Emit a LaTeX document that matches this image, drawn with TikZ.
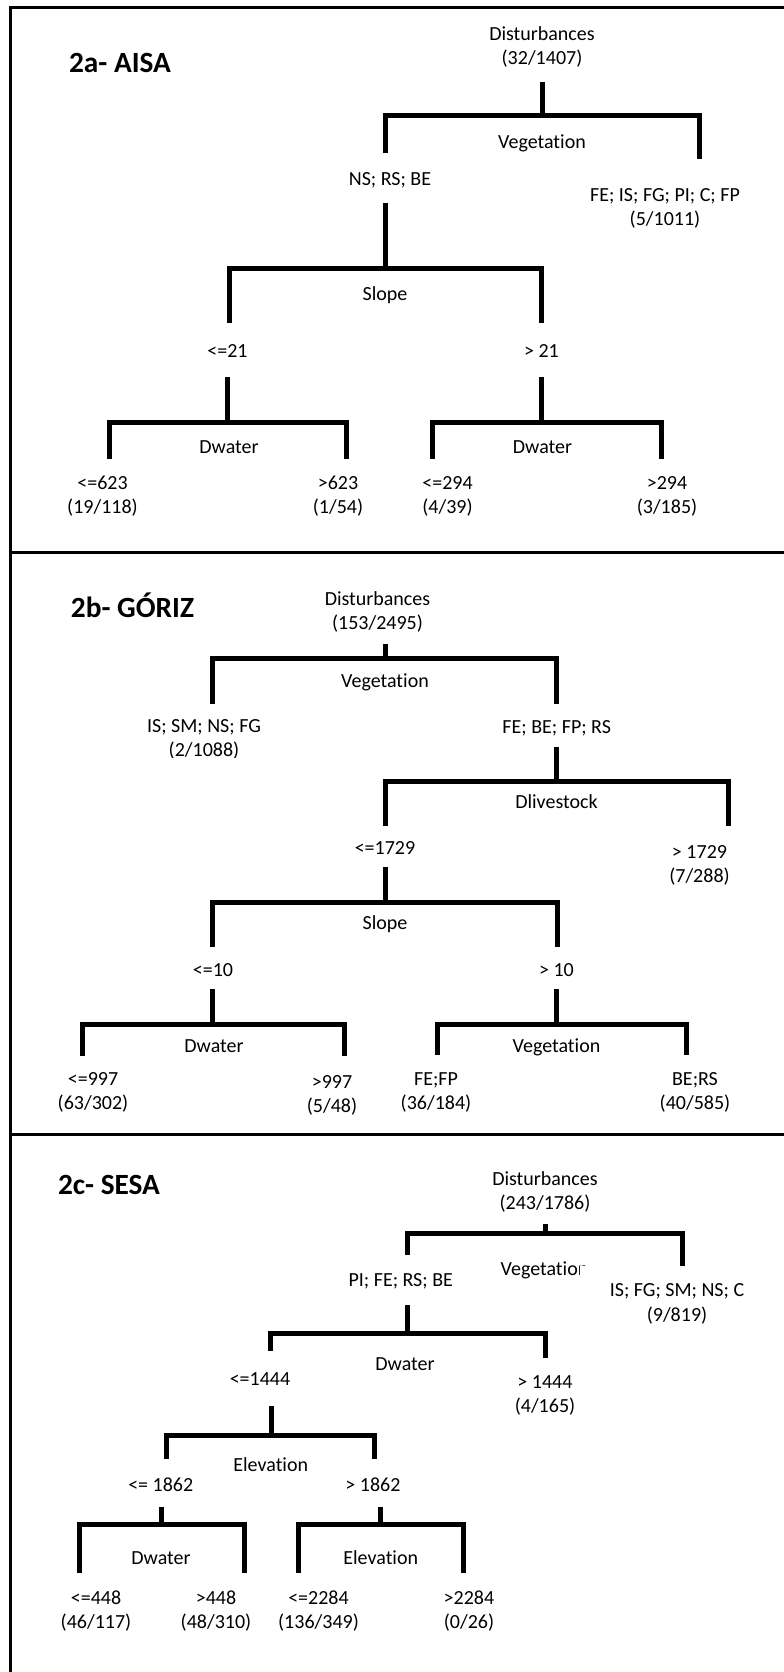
\documentclass[tikz,border=0pt]{standalone}
\usepackage{fontspec}
\setmainfont{Carlito}[Ligatures={TeX,NoCommon}]
\newcommand\lblfont{\fontsize{15}{18.4}\selectfont}
\newcommand\ttlfont{\fontsize{22}{26}\selectfont\bfseries}
\newcommand\treesplit[8]{%
  \coordinate (#1s) at (#2,#3); \coordinate (#1c) at (#2,#4);
  \coordinate (#1l) at (#5,#4); \coordinate (#1r) at (#6,#4);
  \coordinate (#1a) at (#5,#7); \coordinate (#1b) at (#6,#8);
  \draw[tree] (#1s) -- (#1c);
  \draw[tree] (#1a) -- (#1l) -- (#1r) -- (#1b);}
\tikzset{
  lbl/.style={anchor=base, align=center, inner sep=0pt, font=\lblfont},
  lbltwo/.style={lbl, yshift=-18.4pt},
  ttl/.style={anchor=base, inner sep=0pt, font=\ttlfont},
  tree/.style={line width=3.75pt, line join=miter, line cap=butt},
  framel/.style={line width=2.25pt}
}
\begin{document}
\begin{tikzpicture}[x=0.75pt,y=-0.75pt]
\useasboundingbox (0,0) rectangle (784,1672);
% frame
\coordinate (fTL) at (10,7); \coordinate (fTR) at (784,7); \coordinate (fBL) at (10,1672);
\coordinate (s1l) at (10,552); \coordinate (s1r) at (784,552);
\coordinate (s2l) at (10,1134); \coordinate (s2r) at (784,1134);
\draw[framel] (fBL) -- (fTL) -- (fTR);
\draw[framel] (s1l) -- (s1r);
\draw[framel] (s2l) -- (s2r);

% ---------------- 2a AISA
\node[ttl] (ta) at (120,72) {2a- AISA};
\node[lbltwo] (a0) at (542,40) {Disturbances\\(32/1407)};
\treesplit{A1}{542}{82}{115}{385}{699}{153}{159}
\node[lbl] (aveg) at (542,148) {Vegetation};
\node[lbl] (aL) at (390,185) {NS; RS; BE};
\node[lbltwo] (aR) at (665,201) {FE; IS; FG; PI; C; FP\\(5/1011)};
\treesplit{A2}{385}{203}{268}{229}{541.5}{323}{323}
\node[lbl] (aslope) at (385,300) {Slope};
\node[lbl] (aLL) at (227.5,357) {<=21};
\node[lbl] (aLR) at (541.5,357) {> 21};
\treesplit{A3}{227.5}{377}{422}{109}{346.5}{459}{459}
\treesplit{A4}{541.5}{377}{422}{432.5}{661}{459}{459}
\node[lbl] (adw1) at (229,453) {Dwater};
\node[lbl] (adw2) at (542.5,453) {Dwater};
\node[lbltwo] (al1) at (102.5,489.3) {<=623\\(19/118)};
\node[lbltwo] (al2) at (338,489.3) {>623\\(1/54)};
\node[lbltwo] (al3) at (447.5,489.3) {<=294\\(4/39)};
\node[lbltwo] (al4) at (667,489.3) {>294\\(3/185)};

% ---------------- 2b GORIZ
\node[ttl] (tb) at (132.5,617) {2b- GÓRIZ};
\node[lbltwo] (b0) at (377.5,605) {Disturbances\\(153/2495)};
\treesplit{B1}{385}{644}{658}{212.5}{556.5}{704}{704}
\node[lbl] (bveg) at (385,687) {Vegetation};
\node[lbltwo] (bL) at (204,732) {IS; SM; NS; FG\\(2/1088)};
\fill[white] (150,757.5) rectangle (262,776);
\node[lbl] (bR) at (556.75,733) {FE; BE; FP; RS};
\treesplit{B2}{556.5}{747}{781}{385}{728.5}{826}{826}
\node[lbl] (bdl) at (556.5,808) {Dlivestock};
\node[lbl] (bRL) at (385,854.3) {<=1729};
\node[lbltwo] (bRR) at (699.5,858.3) {> 1729\\(7/288)};
\treesplit{B3}{385}{867}{902}{212.5}{557.5}{947}{947}
\node[lbl] (bslope) at (385,929.3) {Slope};
\node[lbl] (bS1) at (213,976) {<=10};
\node[lbl] (bS2) at (556.5,976) {> 10};
\treesplit{B4}{212.5}{989}{1024.5}{82.5}{344}{1056}{1056}
\treesplit{B5}{556.5}{989}{1024.5}{437.5}{686.5}{1055}{1055}
\node[lbl] (bdw) at (214,1052) {Dwater};
\node[lbl] (bveg2) at (556.5,1052) {Vegetation};
\node[lbltwo] (bl1) at (93,1085) {<=997\\(63/302)};
\node[lbltwo] (bl2) at (332,1088.3) {>997\\(5/48)};
\node[lbltwo] (bl3) at (436,1085) {FE;FP\\(36/184)};
\node[lbltwo] (bl4) at (695,1085) {BE;RS\\(40/585)};

% ---------------- 2c SESA
\node[ttl] (tc) at (109,1194) {2c- SESA};
\node[lbltwo] (c0) at (545,1185) {Disturbances\\(243/1786)};
\treesplit{C1}{545}{1224}{1233.3}{407.5}{682.5}{1255}{1267}
\node[lbl] (cveg) at (544.5,1275) {Vegetation};
\fill[white] (580,1266) rectangle (778,1340);
\node[lbl] (cL) at (400.75,1286.7) {PI; FE; RS; BE};
\node[lbltwo] (cR) at (677,1296.7) {IS; FG; SM; NS; C\\(9/819)};
\treesplit{C2}{407.5}{1305}{1333.5}{270}{545}{1351}{1358}
\node[lbl] (cdw) at (405,1370) {Dwater};
\node[lbl] (cLL) at (260,1385.7) {<=1444};
\node[lbltwo] (cLR) at (545,1388) {> 1444\\(4/165)};
\treesplit{C3}{271}{1406}{1435}{166.5}{374}{1459}{1459}
\node[lbl] (cel) at (270.75,1471.7) {Elevation};
\node[lbl] (cE1) at (160.75,1491) {<= 1862};
\node[lbl] (cE2) at (373,1491) {> 1862};
\treesplit{C4}{161}{1507}{1524}{79}{244}{1573}{1573}
\treesplit{C5}{380}{1507}{1524}{298.5}{463.5}{1573}{1573}
\node[lbl] (cdw2) at (161,1564) {Dwater};
\node[lbl] (cel2) at (380.75,1564) {Elevation};
\node[lbltwo] (cl1) at (96,1604) {<=448\\(46/117)};
\node[lbltwo] (cl2) at (216,1604) {>448\\(48/310)};
\node[lbltwo] (cl3) at (318.5,1604) {<=2284\\(136/349)};
\node[lbltwo] (cl4) at (469,1604) {>2284\\(0/26)};
\end{tikzpicture}
\end{document}
